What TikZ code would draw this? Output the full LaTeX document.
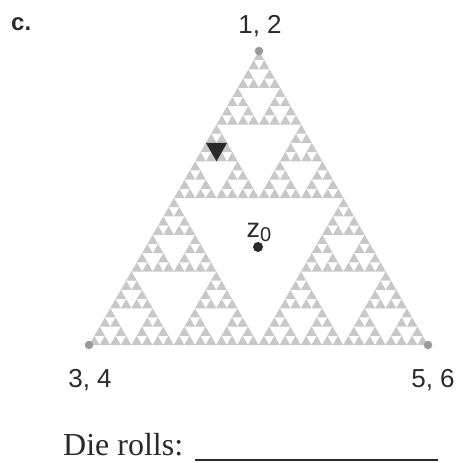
\documentclass[tikz,border=0pt]{standalone}
\usepackage{fontspec}
\setmainfont{Liberation Sans}
\newfontfamily\serifrm{Liberation Serif}
\definecolor{sierfill}{HTML}{C8C8C8}
\definecolor{vtxgray}{HTML}{9A9A9A}
\definecolor{ink}{HTML}{2A2A2A}
\tikzset{
  leaf/.style={fill=sierfill},
  vtxdot/.style={circle,fill=vtxgray,inner sep=0pt,minimum size=8.5pt},
  lbl/.style={anchor=base,text=ink,font=\fontsize{26}{30}\selectfont,inner sep=0pt},
}
\newcommand\sierp[7]{%
  \ifnum#1=0
    \fill[leaf] (#2,#3)--(#4,#5)--(#6,#7)--cycle;
  \else
    \pgfmathsetmacro\mabx{(#2+#4)/2}\pgfmathsetmacro\maby{(#3+#5)/2}%
    \pgfmathsetmacro\macx{(#2+#6)/2}\pgfmathsetmacro\macy{(#3+#7)/2}%
    \pgfmathsetmacro\mbcx{(#4+#6)/2}\pgfmathsetmacro\mbcy{(#5+#7)/2}%
    \pgfmathtruncatemacro\lev{#1-1}%
    \edef\sierpA{\noexpand\sierp{\lev}{#2}{#3}{\mabx}{\maby}{\macx}{\macy}}%
    \edef\sierpB{\noexpand\sierp{\lev}{\mabx}{\maby}{#4}{#5}{\mbcx}{\mbcy}}%
    \edef\sierpC{\noexpand\sierp{\lev}{\macx}{\macy}{\mbcx}{\mbcy}{#6}{#7}}%
    {\sierpA}{\sierpB}{\sierpC}%
  \fi}
\begin{document}
\begin{tikzpicture}[x=1pt,y=-1pt]
\useasboundingbox (0,0) rectangle (461,463);
\fill[white] (0,0) rectangle (461,463);
\sierp{5}{259}{51}{89}{345}{428}{345}
% dark marked triangle
\coordinate (d1) at (205.9,142.9);
\coordinate (d2) at (227.1,142.9);
\coordinate (d3) at (216.5,161.3);
\fill[ink] (d1)--(d2)--(d3)--cycle;
% vertices
\node[vtxdot] (v12) at (259,51) {};
\node[vtxdot] (v34) at (89,345) {};
\node[vtxdot] (v56) at (428,345) {};
\node[lbl] (l12) at (260,33) {1, 2};
\node[lbl] (l34) at (90,387) {3, 4};
\node[lbl] (l56) at (433,387) {5, 6};
\node[anchor=base west,inner sep=0pt,text=ink,font=\bfseries\fontsize{24}{28}\selectfont] (lc) at (11,30) {c.};
% z0
\node[circle,fill=ink,inner sep=0pt,minimum size=10pt] (z0) at (258,247) {};
\node[anchor=base,inner sep=0pt,text=ink,font=\fontsize{27}{30}\selectfont] (z0lbl) at (259,237) {z\raisebox{-4pt}{\fontsize{20}{20}\selectfont 0}};
% die rolls
\node[anchor=base west,inner sep=0pt,text=ink,font=\serifrm\fontsize{32}{36}\selectfont] (die) at (63,455) {Die rolls:};
\coordinate (u1) at (195,460);
\coordinate (u2) at (438,460);
\draw[ink,line width=1.6pt] (u1)--(u2);
\end{tikzpicture}
\end{document}
